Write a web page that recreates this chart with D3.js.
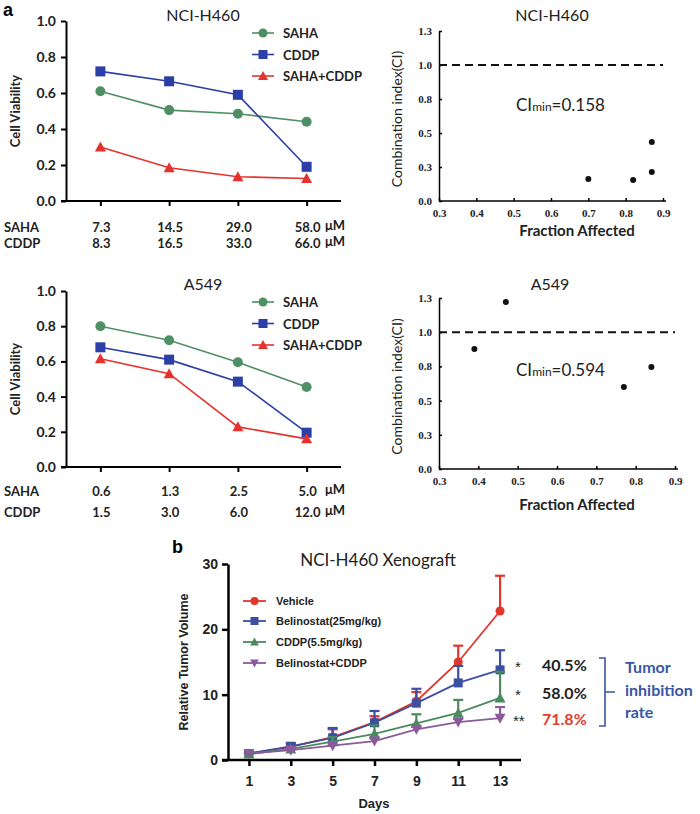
<!DOCTYPE html>
<html><head><meta charset="utf-8">
<script src="https://cdn.jsdelivr.net/npm/d3@7"></script>
<style>body{margin:0;background:#fff} svg{display:block}</style>
</head><body><svg id="c" width="700" height="814"></svg>
<script>
// ---------- data ----------
const seriesNames = ["SAHA", "CDDP", "SAHA+CDDP"];
const h460Saha = [0.61, 0.505, 0.485, 0.44];
const h460Cddp = [0.72, 0.665, 0.59, 0.19];
const h460Combo = [0.30, 0.185, 0.135, 0.125];
const h460SahaDose = ["7.3", "14.5", "29.0", "58.0"];
const h460CddpDose = ["8.3", "16.5", "33.0", "66.0"];
const a549Saha = [0.80, 0.72, 0.595, 0.455];
const a549Cddp = [0.68, 0.61, 0.485, 0.195];
const a549Combo = [0.615, 0.53, 0.228, 0.16];
const a549SahaDose = ["0.6", "1.3", "2.5", "5.0"];
const a549CddpDose = ["1.5", "3.0", "6.0", "12.0"];
const viabilityTicks = [0, 0.2, 0.4, 0.6, 0.8, 1.0];

const h460Fa = [0.70, 0.82, 0.87, 0.87];
const h460Ci = [0.168, 0.161, 0.222, 0.451];
const a549Fa = [0.39, 0.47, 0.77, 0.84];
const a549Ci = [0.912, 1.27, 0.623, 0.775];
const ciTicks = [0, 0.26, 0.52, 0.78, 1.04, 1.3];
const ciTickLabels = ["0.0", "0.3", "0.5", "0.8", "1.0", "1.3"];
const faTicks = [0.3, 0.4, 0.5, 0.6, 0.7, 0.8, 0.9];
const ciRef = 1.04;
const h460CiMin = "0.158";
const a549CiMin = "0.594";

const days = [1, 3, 5, 7, 9, 11, 13];
const groupNames = ["Vehicle", "Belinostat(25mg/kg)", "CDDP(5.5mg/kg)", "Belinostat+CDDP"];
const vehicle = [1.0, 2.0, 3.5, 5.8, 9.0, 15.0, 22.8];
const vehicleErr = [0.1, 0.4, 1.2, 0.9, 1.4, 2.5, 5.4];
const belinostat = [1.0, 2.1, 3.4, 5.7, 8.7, 11.8, 13.8];
const belinostatErr = [0.2, 0.5, 1.5, 1.8, 2.2, 2.6, 3.0];
const cddp = [0.9, 1.7, 2.8, 4.0, 5.6, 7.2, 9.5];
const cddpErr = [0.1, 0.2, 0.7, 1.3, 1.4, 2.0, 4.0];
const combo = [1.0, 1.5, 2.2, 2.9, 4.7, 5.8, 6.4];
const comboErr = [0.1, 0.2, 0.3, 0.4, 0.5, 0.5, 1.7];
const volumeTicks = [0, 10, 20, 30];
const stars = ["*", "*", "**"];
const inhibition = ["40.5%", "58.0%", "71.8%"];
const inhibitionLabel = ["Tumor", "inhibition", "rate"];

// ---------- drawing ----------
const svg = d3.select("#c");
const SANS = "Lato, 'Open Sans', sans-serif";
const SERIF = "'Liberation Serif', 'DejaVu Serif', serif";
const ARIAL = "'Liberation Sans', Arial, sans-serif";
const cGreen = "#4f8f66", cBlue = "#2b3fa6", cRed = "#e5322c";

function marker(g, type, x, y, color, s) {
  if (type === "circle") g.append("circle").attr("cx", x).attr("cy", y).attr("r", s * 0.5).attr("fill", color);
  else if (type === "square") g.append("rect").attr("x", x - s / 2).attr("y", y - s / 2).attr("width", s).attr("height", s).attr("fill", color);
  else if (type === "tri") g.append("path").attr("d", `M${x},${y - s * 0.55}L${x + s * 0.55},${y + s * 0.45}L${x - s * 0.55},${y + s * 0.45}Z`).attr("fill", color);
  else if (type === "tridown") g.append("path").attr("d", `M${x},${y + s * 0.55}L${x + s * 0.55},${y - s * 0.45}L${x - s * 0.55},${y - s * 0.45}Z`).attr("fill", color);
}

function viabilityPanel(o) {
  const g = svg.append("g");
  const y = d3.scaleLinear().domain([0, 1]).range([o.y0, o.y1]);
  const x = d3.scalePoint().domain(d3.range(o.saha.length)).range([66, 341]).padding(0.5);
  // axes
  const ya = g.append("g").attr("transform", "translate(66,0)")
    .call(d3.axisLeft(y).tickValues(viabilityTicks).tickFormat(d3.format(".1f")).tickSize(5).tickSizeOuter(0));
  ya.select(".domain").attr("stroke-width", 2);
  ya.selectAll(".tick line").attr("stroke-width", 2);
  ya.selectAll("text").attr("font-family", SANS).attr("font-weight", 700).attr("font-size", 14).attr("fill", "#222").attr("dx", -2);
  const xa = g.append("g").attr("transform", `translate(0,${o.y0})`)
    .call(d3.axisBottom(x).tickSize(5).tickSizeOuter(0).tickFormat(""));
  xa.select(".domain").attr("d", `M61,0H341`).attr("stroke-width", 2);
  xa.selectAll(".tick line").attr("stroke-width", 2);
  // title
  g.append("text").attr("x", 203).attr("y", o.titleY).attr("text-anchor", "middle")
    .attr("font-family", SANS).attr("font-size", 16).attr("fill", "#222").text(o.title);
  // y label
  g.append("text").attr("transform", `translate(20,${(o.y0 + o.y1) / 2}) rotate(-90)`).attr("text-anchor", "middle")
    .attr("font-family", SANS).attr("font-weight", 700).attr("font-size", 13).attr("fill", "#222").text("Cell Viability");
  // series
  const series = [
    { v: o.saha, c: cGreen, m: "circle", s: 10 },
    { v: o.cddp, c: cBlue, m: "square", s: 10 },
    { v: o.combo, c: cRed, m: "tri", s: 10 }];
  const line = d3.line().x((d, i) => x(i)).y(d => y(d));
  series.forEach(s => {
    g.append("path").attr("d", line(s.v)).attr("fill", "none").attr("stroke", s.c).attr("stroke-width", 1.6);
    s.v.forEach((d, i) => marker(g, s.m, x(i), y(d), s.c, s.s));
  });
  // legend
  series.forEach((s, i) => {
    const ly = o.legY + i * 21.5;
    g.append("line").attr("x1", 252).attr("x2", 274).attr("y1", ly).attr("y2", ly).attr("stroke", s.c).attr("stroke-width", 1.6);
    marker(g, s.m, 263, ly, s.c, 9);
    g.append("text").attr("x", 283).attr("y", ly + 5).attr("font-family", SANS).attr("font-weight", 700)
      .attr("font-size", 13).attr("fill", "#222").text(seriesNames[i]);
  });
  // dose rows
  [[o.sahaDose, "SAHA", o.doseY1], [o.cddpDose, "CDDP", o.doseY2]].forEach(([doses, name, yy]) => {
    g.append("text").attr("x", 4).attr("y", yy).attr("font-family", SANS).attr("font-weight", 700)
      .attr("font-size", 13).attr("fill", "#222").text(name);
    doses.forEach((d, i) => g.append("text").attr("x", x(i) + 1).attr("y", yy).attr("text-anchor", "middle")
      .attr("font-family", SANS).attr("font-weight", 700).attr("font-size", 13).attr("fill", "#222").text(d));
    g.append("text").attr("x", 325).attr("y", yy - 2).attr("font-family", SANS).attr("font-weight", 700)
      .attr("font-size", 13).attr("fill", "#222").text("μM");
  });
}

viabilityPanel({ y0: 201, y1: 21, title: "NCI-H460", titleY: 21, saha: h460Saha, cddp: h460Cddp, combo: h460Combo,
  sahaDose: h460SahaDose, cddpDose: h460CddpDose, doseY1: 232, doseY2: 248, legY: 33 });
viabilityPanel({ y0: 467, y1: 291, title: "A549", titleY: 290, saha: a549Saha, cddp: a549Cddp, combo: a549Combo,
  sahaDose: a549SahaDose, cddpDose: a549CddpDose, doseY1: 496, doseY2: 517, legY: 302 });

function ciPanel(o) {
  const g = svg.append("g");
  const x = d3.scaleLinear().domain([0.3, 0.9]).range([439, o.xr]);
  const y = d3.scaleLinear().domain([0, 1.3]).range([o.y0, o.y1]);
  const xa = g.append("g").attr("transform", `translate(0,${o.y0})`)
    .call(d3.axisBottom(x).tickValues(faTicks).tickFormat(d3.format(".1f")).tickSize(-3).tickSizeOuter(0));
  xa.select(".domain").attr("d", `M439,0H${o.xr + 3}`).attr("stroke-width", 1.5);
  xa.selectAll(".tick line").attr("stroke-width", 1.5);
  xa.selectAll("text").attr("font-family", SERIF).attr("font-weight", 700).attr("font-size", 11).attr("fill", "#222").attr("dy", "1.2em");
  const ya = g.append("g").attr("transform", "translate(439,0)")
    .call(d3.axisLeft(y).tickValues(ciTicks).tickFormat((d, i) => ciTickLabels[i]).tickSize(-3).tickSizeOuter(0));
  ya.select(".domain").attr("stroke-width", 1.5);
  ya.selectAll(".tick line").attr("stroke-width", 1.5);
  ya.selectAll("text").attr("font-family", SERIF).attr("font-weight", 700).attr("font-size", 11).attr("fill", "#222").attr("x", -7);
  // ref line
  g.append("line").attr("x1", x(0.3)).attr("x2", x(0.9)).attr("y1", y(ciRef)).attr("y2", y(ciRef))
    .attr("stroke", "#111").attr("stroke-width", 2).attr("stroke-dasharray", "8,5");
  // points
  o.fa.forEach((f, i) => g.append("circle").attr("cx", x(f)).attr("cy", y(o.ci[i])).attr("r", 3).attr("fill", "#111"));
  // titles
  g.append("text").attr("x", o.titleX).attr("y", o.titleY).attr("text-anchor", "middle")
    .attr("font-family", SANS).attr("font-size", 16).attr("fill", "#222").text(o.title);
  g.append("text").attr("transform", `translate(402,${(o.y0 + o.y1) / 2 + 3}) rotate(-90)`).attr("text-anchor", "middle")
    .attr("font-family", SANS).attr("font-size", 14).attr("fill", "#222").text("Combination index(CI)");
  g.append("text").attr("x", 577).attr("y", o.faY).attr("text-anchor", "middle")
    .attr("font-family", SANS).attr("font-weight", 700).attr("font-size", 15).attr("fill", "#222").text("Fraction Affected");
  const t = g.append("text").attr("x", 516).attr("y", o.ciY).attr("font-family", SANS).attr("font-size", 17).attr("fill", "#222");
  t.append("tspan").text("CI");
  t.append("tspan").attr("font-size", 12).text("min");
  t.append("tspan").text("=" + o.ciMin);
}

ciPanel({ y0: 201, y1: 31, xr: 663, fa: h460Fa, ci: h460Ci, title: "NCI-H460", titleX: 552, titleY: 21, faY: 236, ciY: 111, ciMin: h460CiMin });
ciPanel({ y0: 469, y1: 298, xr: 675, fa: a549Fa, ci: a549Ci, title: "A549", titleX: 550, titleY: 290, faY: 510, ciY: 376, ciMin: a549CiMin });

// panel labels
svg.append("text").attr("x", 3).attr("y", 16).attr("font-family", ARIAL).attr("font-weight", 700).attr("font-size", 18).text("a");
svg.append("text").attr("x", 172).attr("y", 553).attr("font-family", ARIAL).attr("font-weight", 700).attr("font-size", 18).text("b");

// ---------- panel b ----------
(function () {
  const g = svg.append("g");
  const x = d3.scaleLinear().domain([0, 14]).range([228, 521]);
  const y = d3.scaleLinear().domain([0, 30]).range([760, 564]);
  const xa = g.append("g").attr("transform", "translate(0,760)")
    .call(d3.axisBottom(x).tickValues(days).tickSize(6).tickSizeOuter(0));
  xa.select(".domain").attr("d", "M222,0H521").attr("stroke-width", 2.5);
  xa.selectAll(".tick line").attr("stroke-width", 2.5);
  xa.selectAll("text").attr("font-family", ARIAL).attr("font-weight", 700).attr("font-size", 14).attr("fill", "#222").attr("dy", "1.2em");
  const ya = g.append("g").attr("transform", "translate(228,0)")
    .call(d3.axisLeft(y).tickValues(volumeTicks).tickSize(6).tickSizeOuter(0));
  ya.select(".domain").attr("stroke-width", 2.5);
  ya.selectAll(".tick line").attr("stroke-width", 2.5);
  ya.selectAll("text").attr("font-family", ARIAL).attr("font-weight", 700).attr("font-size", 14).attr("fill", "#222").attr("x", -10);

  g.append("text").attr("x", 378).attr("y", 566).attr("text-anchor", "middle").attr("font-family", SANS)
    .attr("font-size", 17).attr("fill", "#222").text("NCI-H460 Xenograft");
  g.append("text").attr("transform", "translate(188,662) rotate(-90)").attr("text-anchor", "middle")
    .attr("font-family", ARIAL).attr("font-weight", 700).attr("font-size", 12.5).attr("fill", "#222").text("Relative Tumor Volume");
  g.append("text").attr("x", 374).attr("y", 808).attr("text-anchor", "middle")
    .attr("font-family", ARIAL).attr("font-weight", 700).attr("font-size", 13).attr("fill", "#222").text("Days");

  const groups = [
    { v: vehicle, e: vehicleErr, c: "#e2352b", m: "circle", s: 9 },
    { v: belinostat, e: belinostatErr, c: "#3d4fa1", m: "square", s: 9 },
    { v: cddp, e: cddpErr, c: "#4b8a5f", m: "tri", s: 10 },
    { v: combo, e: comboErr, c: "#8b5a9c", m: "tridown", s: 10 }];
  const line = d3.line().x((d, i) => x(days[i])).y(d => y(d));
  groups.forEach(s => {
    s.v.forEach((d, i) => {
      const xx = x(days[i]), yt = y(d + s.e[i]);
      g.append("line").attr("x1", xx).attr("x2", xx).attr("y1", y(d)).attr("y2", yt).attr("stroke", s.c).attr("stroke-width", 2.2);
      g.append("line").attr("x1", xx - 5).attr("x2", xx + 5).attr("y1", yt).attr("y2", yt).attr("stroke", s.c).attr("stroke-width", 2.2);
    });
    g.append("path").attr("d", line(s.v)).attr("fill", "none").attr("stroke", s.c).attr("stroke-width", 1.8);
    s.v.forEach((d, i) => marker(g, s.m, x(days[i]), y(d), s.c, s.s));
  });
  groups.forEach((s, i) => {
    const ly = [601, 621, 642, 663][i];
    g.append("line").attr("x1", 243).attr("x2", 266).attr("y1", ly).attr("y2", ly).attr("stroke", s.c).attr("stroke-width", 1.8);
    marker(g, s.m, 254.5, ly, s.c, 8);
    g.append("text").attr("x", 276).attr("y", ly + 4).attr("font-family", ARIAL).attr("font-weight", 700)
      .attr("font-size", 11).attr("fill", "#222").text(groupNames[i]);
  });

  // annotations
  const ay = [665, 693, 719];
  stars.forEach((s, i) => g.append("text").attr("x", i === 2 ? 513 : 515).attr("y", ay[i] + 7)
    .attr("font-family", ARIAL).attr("font-size", 15).attr("fill", "#222").text(s));
  inhibition.forEach((s, i) => g.append("text").attr("x", 542).attr("y", ay[i] + 6)
    .attr("font-family", SANS).attr("font-weight", 700).attr("font-size", 16).attr("fill", i === 2 ? "#e0402e" : "#222").text(s));
  g.append("path").attr("d", "M599,658H605V726H599M605,692H615").attr("fill", "none").attr("stroke", "#3a55a5").attr("stroke-width", 1.6);
  inhibitionLabel.forEach((s, i) => g.append("text").attr("x", 625).attr("y", 673 + i * 22.5)
    .attr("font-family", SANS).attr("font-weight", 700).attr("font-size", 16).attr("fill", "#3a55a5").text(s));
})();
</script></body></html>
